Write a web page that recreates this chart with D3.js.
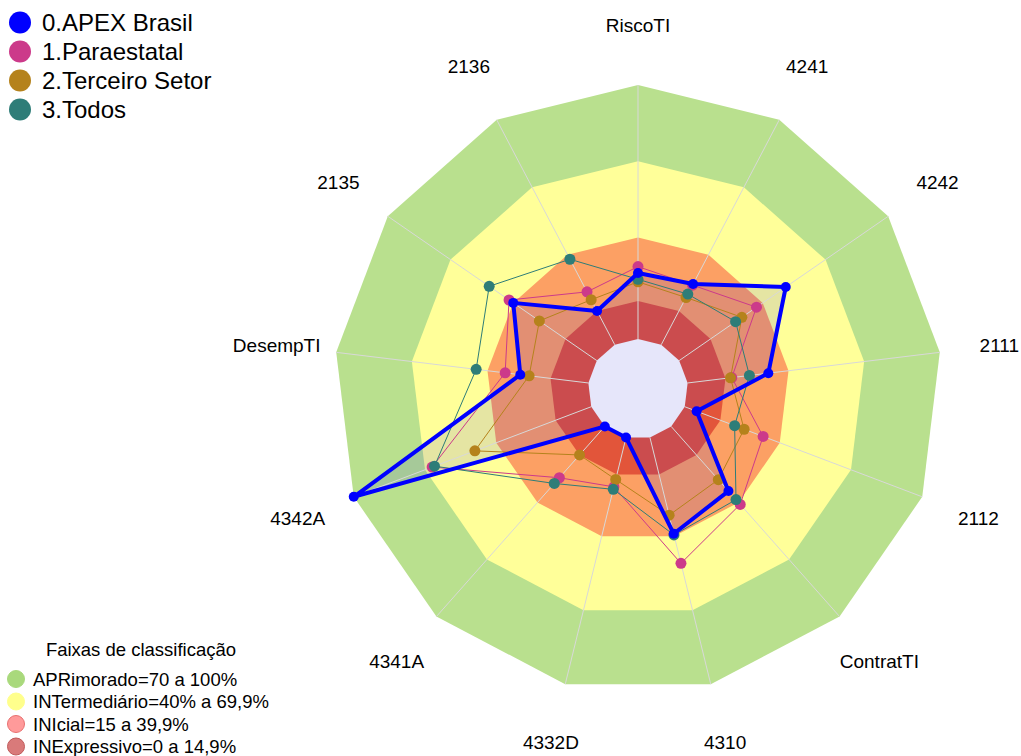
<!DOCTYPE html>
<html>
<head>
<meta charset="utf-8">
<script src="https://cdn.jsdelivr.net/npm/d3@7"></script>
<style>
  body { margin: 0; background: #fff; }
  svg { font-family: Arial, "Liberation Sans", sans-serif; }
</style>
</head>
<body>
<svg id="chart" width="1021" height="756"></svg>
<script>
const axes = ['RiscoTI', '4241', '4242', '2111', '2112', 'ContratTI', '4310',
  '4332D', '4341A', '4342A', 'DesempTI', '2135', '2136'];

const apex = [26, 27, 51, 32, 5, 34, 39, 0, 0, 100, 27, 40, 15];
const paraestatal = [28.5, 26.5, 37, 17.5, 33, 41, 51, 20, 27, 67, 33, 42, 23.5];
const terceiro = [22.5, 21, 30, 17, 25, 28, 31.5, 17, 15, 49, 23.5, 27.5, 20];
const todos = [23.5, 22.5, 27, 24.5, 21, 38.5, 39.5, 21, 30, 66, 44.5, 51.5, 38];

const seriesNames = ['0.APEX Brasil', '1.Paraestatal', '2.Terceiro Setor', '3.Todos'];
const seriesColors = ['#0000ff', '#cc3a8a', '#b5821c', '#2e7d78'];

// faixas: limite superior de cada banda
const bandLimits = [100, 70, 40, 15];
const bandColors = ['#b9e08e', '#ffff99', '#fca064', '#e2553a'];
const bandNames = ['APRimorado=70 a 100%', 'INTermediário=40% a 69,9%',
  'INIcial=15 a 39,9%', 'INExpressivo=0 a 14,9%'];
const bandLegendFill = ['#a9d97c', '#ffff8c', '#ff9a9a', '#d97a7a'];
const bandLegendStroke = ['#a9d97c', '#ffff8c', '#e87070', '#c05a5a'];

const cx = 638, cy = 389;
const n = axes.length;

const svg = d3.select('#chart');
const chart = svg.append('g').attr('transform', `translate(${cx}, ${cy})`);

const r = d3.scaleLinear().domain([0, 100]).range([50, 304]);
const angle = d3.scaleLinear().domain([0, n]).range([0, 2 * Math.PI]);

const ring = d3.lineRadial()
  .angle((d, i) => angle(i))
  .radius(d => r(d))
  .curve(d3.curveLinearClosed);

// bands
chart.selectAll('.band')
  .data(bandLimits)
  .join('path')
  .attr('class', 'band')
  .attr('d', v => ring(axes.map(() => v)))
  .attr('fill', (d, i) => bandColors[i]);

// APEX fill
chart.append('path')
  .attr('d', ring(apex))
  .attr('fill', '#0000ff')
  .attr('fill-opacity', 0.1);

// hole
chart.append('path')
  .attr('d', ring(axes.map(() => 0)))
  .attr('fill', '#e6e6fa');

// spokes
chart.selectAll('.spoke')
  .data(axes)
  .join('line')
  .attr('class', 'spoke')
  .attr('x1', (d, i) => r(0) * Math.sin(angle(i)))
  .attr('y1', (d, i) => -r(0) * Math.cos(angle(i)))
  .attr('x2', (d, i) => r(100) * Math.sin(angle(i)))
  .attr('y2', (d, i) => -r(100) * Math.cos(angle(i)))
  .attr('stroke', '#d8d8d8')
  .attr('stroke-width', 1);

// axis labels
chart.selectAll('.axis-label')
  .data(axes)
  .join('text')
  .attr('class', 'axis-label')
  .attr('x', (d, i) => 364 * Math.sin(angle(i)))
  .attr('y', (d, i) => -364 * Math.cos(angle(i)))
  .attr('text-anchor', 'middle')
  .attr('dominant-baseline', 'central')
  .attr('font-size', 19)
  .text(d => d);

// series, APEX drawn last (on top)
const series = [apex, paraestatal, terceiro, todos];
const drawOrder = [1, 2, 3, 0];

drawOrder.forEach(k => {
  const vals = series[k];
  const g = chart.append('g');
  g.append('path')
    .attr('d', ring(vals))
    .attr('fill', 'none')
    .attr('stroke', seriesColors[k])
    .attr('stroke-width', k === 0 ? 4 : 1)
    .attr('stroke-linejoin', 'round');
  g.selectAll('circle')
    .data(vals)
    .join('circle')
    .attr('cx', (d, i) => r(d) * Math.sin(angle(i)))
    .attr('cy', (d, i) => -r(d) * Math.cos(angle(i)))
    .attr('r', k === 0 ? 5 : 5.5)
    .attr('fill', seriesColors[k]);
});

// series legend (top left)
const legend = svg.append('g');
seriesNames.forEach((name, i) => {
  const y = 22.5 + i * 29;
  legend.append('circle')
    .attr('cx', 20).attr('cy', y).attr('r', 11)
    .attr('fill', seriesColors[i]);
  legend.append('text')
    .attr('x', 42).attr('y', y)
    .attr('dominant-baseline', 'central')
    .attr('font-size', 24)
    .text(name);
});

// bands legend (bottom left)
const bandLegend = svg.append('g');
bandLegend.append('text')
  .attr('x', 141).attr('y', 649)
  .attr('text-anchor', 'middle')
  .attr('dominant-baseline', 'central')
  .attr('font-size', 18.5)
  .text('Faixas de classificação');
bandNames.forEach((name, i) => {
  const y = 679 + i * 22.5;
  bandLegend.append('circle')
    .attr('cx', 16).attr('cy', y).attr('r', 8.5)
    .attr('fill', bandLegendFill[i])
    .attr('stroke', bandLegendStroke[i])
    .attr('stroke-width', 1);
  bandLegend.append('text')
    .attr('x', 33).attr('y', y)
    .attr('dominant-baseline', 'central')
    .attr('font-size', 18.5)
    .text(name);
});
</script>
</body>
</html>
